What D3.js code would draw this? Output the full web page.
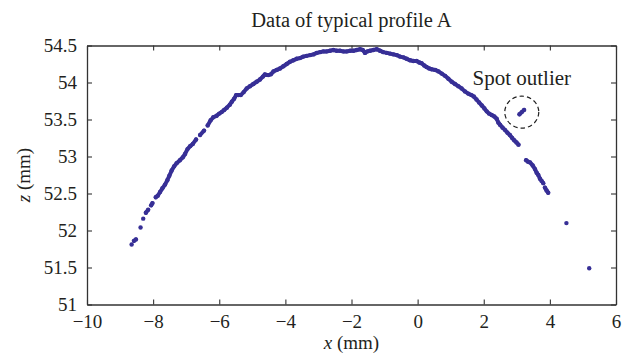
<!DOCTYPE html>
<html>
<head>
<meta charset="utf-8">
<script src="https://d3js.org/d3.v7.min.js"></script>
<style>
  body { margin: 0; background: #fff; }
  text { font-family: "Liberation Serif", "Times New Roman", serif; fill: #231f20; }
</style>
</head>
<body>
<div id="chart"></div>
<script>
// Measured profile points (x in mm, z in mm)
var profileX = [-8.65, -8.58, -8.52, -8.38, -8.30, -8.22, -8.15, -8.06, -8.02,
  -7.92, -7.86, -7.79, -7.72, -7.64, -7.57, -7.51, -7.44, -7.36, -7.29, -7.19, -7.10,
  -7.04, -6.96, -6.88, -6.80, -6.70, -6.58, -6.46, -6.35, -6.26, -6.18, -6.08, -6.00,
  -5.93, -5.85, -5.77, -5.68, -5.62, -5.55, -5.49, -5.42, -5.35, -5.26, -5.17, -5.07,
  -4.97, -4.87, -4.77, -4.68, -4.62, -4.52, -4.44, -4.36, -4.26, -4.16, -4.06, -3.96,
  -3.86, -3.76, -3.66, -3.56, -3.46, -3.36, -3.25, -3.15, -3.05, -2.95, -2.85, -2.75,
  -2.65, -2.55, -2.45, -2.35, -2.25, -2.14, -2.04, -1.94, -1.84, -1.74, -1.66, -1.59,
  -1.52, -1.44, -1.34, -1.24, -1.14, -1.04, -0.93, -0.83, -0.73, -0.63, -0.53, -0.43,
  -0.33, -0.23, -0.13, -0.03, 0.05, 0.12, 0.20, 0.27, 0.35, 0.42, 0.53, 0.63, 0.73,
  0.83, 0.93, 1.03, 1.13, 1.23, 1.33, 1.43, 1.53, 1.63, 1.70, 1.78, 1.86, 1.94, 2.02,
  2.09, 2.16, 2.24, 2.32, 2.39, 2.44, 2.49, 2.57, 2.64, 2.72, 2.79, 2.86, 2.92, 2.99,
  3.05, 3.28, 3.34, 3.40, 3.48, 3.55, 3.60, 3.65, 3.70, 3.75, 3.80, 3.85, 3.90, 3.95,
  4.50, 5.19];
var profileZ = [51.81, 51.86, 51.88, 52.04, 52.16, 52.24, 52.28, 52.34, 52.37,
  52.45, 52.47, 52.52, 52.57, 52.62, 52.68, 52.74, 52.81, 52.87, 52.91, 52.95, 52.99,
  53.03, 53.10, 53.14, 53.17, 53.23, 53.29, 53.35, 53.42, 53.49, 53.53, 53.55, 53.58,
  53.60, 53.63, 53.66, 53.70, 53.74, 53.78, 53.83, 53.83, 53.83, 53.87, 53.92, 53.95,
  53.98, 54.01, 54.04, 54.08, 54.11, 54.10, 54.11, 54.15, 54.17, 54.19, 54.22, 54.25,
  54.28, 54.30, 54.32, 54.33, 54.35, 54.36, 54.37, 54.38, 54.40, 54.41, 54.42, 54.42,
  54.43, 54.44, 54.43, 54.43, 54.42, 54.42, 54.43, 54.43, 54.44, 54.45, 54.44, 54.40,
  54.42, 54.43, 54.44, 54.45, 54.43, 54.41, 54.40, 54.39, 54.38, 54.37, 54.35, 54.34,
  54.32, 54.30, 54.29, 54.29, 54.27, 54.26, 54.23, 54.21, 54.19, 54.18, 54.17, 54.15, 54.12,
  54.09, 54.05, 54.01, 53.98, 53.95, 53.92, 53.88, 53.85, 53.83, 53.81, 53.77, 53.73, 53.69, 53.65,
  53.61, 53.58, 53.56, 53.54, 53.51, 53.46, 53.43, 53.39, 53.36, 53.32, 53.29, 53.25, 53.22, 53.19,
  53.16, 52.95, 52.93, 52.92, 52.88, 52.83, 52.78, 52.75, 52.70, 52.67, 52.64, 52.58, 52.54, 52.51,
  52.10, 51.49];
// x values after which the scan has a gap (no continuous trace)
var gapAfter = [-8.65, -8.52, -8.38, -8.30, -8.15, -8.02, -6.70, -6.46, 3.05, 3.80, 3.95, 4.50];

// The spot outlier
var outlierX = [3.08, 3.15, 3.22];
var outlierZ = [53.57, 53.60, 53.63];

var xTicks = [-10, -8, -6, -4, -2, 0, 2, 4, 6];
var zTicks = [51, 51.5, 52, 52.5, 53, 53.5, 54, 54.5];

// SVG area and margins
var svgWidth = 634;
var svgHeight = 357;
var margin = { top: 45.5, right: 18, bottom: 52.5, left: 87 };
var width = svgWidth - margin.left - margin.right;
var height = svgHeight - margin.top - margin.bottom;

var svg = d3.select("#chart")
  .append("svg")
  .attr("width", svgWidth)
  .attr("height", svgHeight);

var g = svg.append("g")
  .attr("transform", `translate(${margin.left}, ${margin.top})`);

var xScale = d3.scaleLinear().domain([-10, 6]).range([0, width]);
var yScale = d3.scaleLinear().domain([51, 54.5]).range([height, 0]);

var fmt = d3.format("");

// axes, ticks pointing inwards on all four sides
function styleAxis(sel) {
  sel.selectAll("path").attr("stroke", "#333").attr("stroke-width", 1.3);
  sel.selectAll("line").attr("stroke", "#333").attr("stroke-width", 1.1);
  sel.selectAll("text").attr("font-size", "19px").attr("fill", "#231f20")
    .style("font-family", "'Liberation Serif', serif");
}

g.append("g")
  .attr("transform", `translate(0, ${height})`)
  .call(d3.axisBottom(xScale).tickValues(xTicks).tickFormat(fmt).tickSize(-5).tickSizeOuter(0).tickPadding(10))
  .call(styleAxis);

g.append("g")
  .call(d3.axisLeft(yScale).tickValues(zTicks).tickFormat(fmt).tickSize(-5).tickSizeOuter(0).tickPadding(10))
  .call(styleAxis);

g.append("g")
  .call(d3.axisTop(xScale).tickValues(xTicks).tickFormat("").tickSize(-5).tickSizeOuter(0))
  .call(styleAxis);

g.append("g")
  .attr("transform", `translate(${width}, 0)`)
  .call(d3.axisRight(yScale).tickValues(zTicks).tickFormat("").tickSize(-5).tickSizeOuter(0))
  .call(styleAxis);

var dotColor = "#372f96";

// build profile points and join the continuous runs
var points = profileX.map((x, i) => ({ x: x, z: profileZ[i] }));
var segments = [];
var current = [];
points.forEach(function(p) {
  current.push(p);
  if (gapAfter.indexOf(p.x) >= 0) {
    segments.push(current);
    current = [];
  }
});
if (current.length) segments.push(current);

var outlier = outlierX.map((x, i) => ({ x: x, z: outlierZ[i] }));
segments.push(outlier);

var line = d3.line()
  .x(d => xScale(d.x))
  .y(d => yScale(d.z));

g.selectAll("path.trace")
  .data(segments.filter(s => s.length > 1))
  .enter()
  .append("path")
  .classed("trace", true)
  .attr("d", line)
  .attr("fill", "none")
  .attr("stroke", dotColor)
  .attr("stroke-width", 4)
  .attr("stroke-linejoin", "round")
  .attr("stroke-linecap", "round");

g.selectAll("circle.pt")
  .data(points.concat(outlier))
  .enter()
  .append("circle")
  .classed("pt", true)
  .attr("cx", d => xScale(d.x))
  .attr("cy", d => yScale(d.z))
  .attr("r", 2.2)
  .attr("fill", dotColor);

// dashed ring round the outlier
var ringX = d3.mean(outlierX);
var ringZ = d3.mean(outlierZ);
g.append("ellipse")
  .attr("cx", xScale(ringX))
  .attr("cy", yScale(ringZ))
  .attr("rx", 17)
  .attr("ry", 16)
  .attr("fill", "none")
  .attr("stroke", "#222")
  .attr("stroke-width", 1.2)
  .attr("stroke-dasharray", "4.5,3");

g.append("text")
  .attr("x", xScale(ringX))
  .attr("y", yScale(ringZ) - 27)
  .attr("text-anchor", "middle")
  .attr("font-size", "21px")
  .text("Spot outlier");

// title
svg.append("text")
  .attr("x", margin.left + width / 2)
  .attr("y", 27)
  .attr("text-anchor", "middle")
  .attr("font-size", "20.5px")
  .text("Data of typical profile A");

// x axis label
var xLabel = svg.append("text")
  .attr("x", margin.left + width / 2)
  .attr("y", 349)
  .attr("text-anchor", "middle")
  .attr("font-size", "19px");
xLabel.append("tspan").attr("font-style", "italic").text("x");
xLabel.append("tspan").text(" (mm)");

// z axis label
var zLabel = svg.append("text")
  .attr("transform", `translate(30, ${margin.top + height / 2}) rotate(-90)`)
  .attr("text-anchor", "middle")
  .attr("font-size", "19px");
zLabel.append("tspan").attr("font-style", "italic").text("z");
zLabel.append("tspan").text(" (mm)");
</script>
</body>
</html>
